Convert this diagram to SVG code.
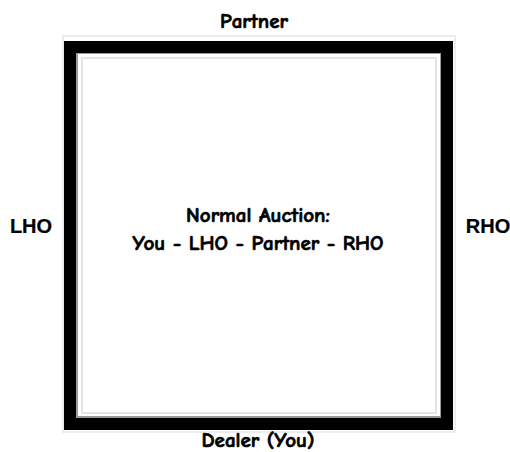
<svg xmlns="http://www.w3.org/2000/svg" width="510" height="452" viewBox="0 0 510 452">
<style>
text{font-family:"Comic Sans MS","Comic Neue","DejaVu Sans",sans-serif;font-weight:bold;font-size:21px;fill:#000;stroke:#000;stroke-width:0.7;text-anchor:middle}
text.s{font-family:"Liberation Sans",Arial,sans-serif;font-size:20px;stroke-width:0.2}
</style>
<rect width="510" height="452" fill="#fff"/>
<g id="board">
<rect x="63" y="36" width="392" height="396" fill="none" stroke="#e6e6e6" stroke-width="1.5"/>
<rect x="82" y="58" width="354" height="355" fill="none" stroke="#e4e4e4" stroke-width="2"/>
<rect x="77" y="53" width="364" height="364" fill="none" stroke="#9a9a9a" stroke-width="2"/>
<rect x="70" y="47" width="377" height="377" fill="none" stroke="#000" stroke-width="12"/>
</g>
<g id="partner"><text x="254" y="28">Partner</text></g>
<g id="lho"><text class="s" x="31" y="233">LHO</text></g>
<g id="rho"><text class="s" x="488" y="233">RHO</text></g>
<g id="center"><text x="258" y="222">Normal Auction:</text><text x="258" y="250">You - LHO - Partner - RHO</text></g>
<g id="dealer"><text x="258" y="447">Dealer (You)</text></g>
<g id="connectors"/>
</svg>
